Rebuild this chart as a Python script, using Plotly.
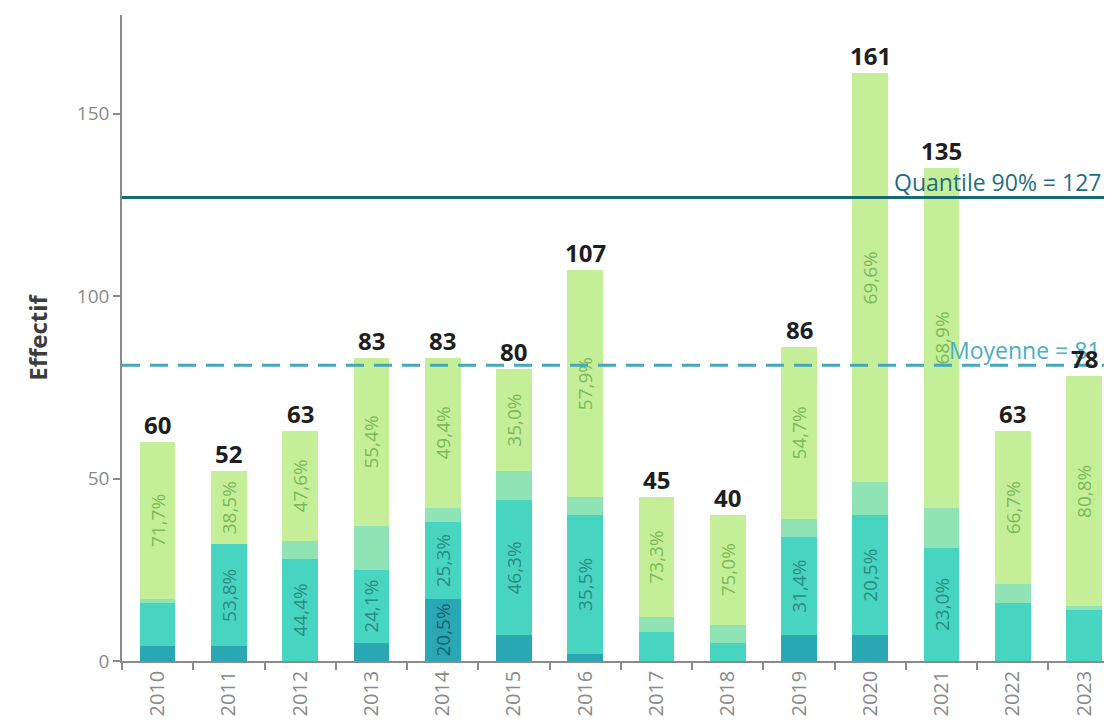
import plotly.graph_objects as go
from decimal import Decimal, ROUND_HALF_UP

years = ["2010", "2011", "2012", "2013", "2014", "2015", "2016",
         "2017", "2018", "2019", "2020", "2021", "2022", "2023"]
seg_dark = [4, 4, 0, 5, 17, 7, 2, 0, 0, 7, 7, 0, 0, 0]
seg_teal = [12, 28, 28, 20, 21, 37, 38, 8, 5, 27, 33, 31, 16, 14]
seg_light = [1, 0, 5, 12, 4, 8, 5, 4, 5, 5, 9, 11, 5, 1]
seg_green = [43, 20, 30, 46, 41, 28, 62, 33, 30, 47, 112, 93, 42, 63]
mean_value = 81
quantile90 = 127
label_min = 17

totals = [a + b + c + d for a, b, c, d in zip(seg_dark, seg_teal, seg_light, seg_green)]

FONT = "Open Sans"


def pct_labels(values):
    out = []
    for v, t in zip(values, totals):
        if v >= label_min:
            p = (Decimal(v) * 100 / Decimal(t)).quantize(Decimal("0.1"), rounding=ROUND_HALF_UP)
            out.append(f"{p}%".replace(".", ","))
        else:
            out.append("")
    return out


series = [
    (seg_dark, "#29a8b3", "#1b5f73"),
    (seg_teal, "#47d4c0", "#2a8c82"),
    (seg_light, "#8fe3b4", "#4e9e78"),
    (seg_green, "#c4ee97", "#7cb95a"),
]

fig = go.Figure()
for vals, col, tcol in series:
    fig.add_trace(go.Bar(
        x=years, y=vals, marker=dict(color=col, line=dict(width=0)),
        text=pct_labels(vals), textposition="inside", textangle=-90,
        insidetextanchor="middle", constraintext="none",
        textfont=dict(family=FONT, size=19, color=tcol),
        width=0.5, showlegend=False, hoverinfo="skip",
    ))

annotations = [
    dict(
        x=1, y=quantile90, xref="paper", yref="y", text=f"Quantile 90% = {quantile90}",
        showarrow=False, xanchor="right", yanchor="bottom", xshift=-1, yshift=-3,
        font=dict(family=FONT, size=23, color="#1f6e7e"),
    ),
    dict(
        x=1, y=mean_value, xref="paper", yref="y", text=f"Moyenne = {mean_value}",
        showarrow=False, xanchor="right", yanchor="bottom", xshift=-1, yshift=-3,
        font=dict(family=FONT, size=23, color="#4aaec4"),
    ),
]
for i, t in enumerate(totals):
    annotations.append(dict(
        x=i, y=t, xref="x", yref="y", text=f"<b>{t}</b>", showarrow=False,
        yanchor="bottom", yshift=-1,
        font=dict(family=FONT, size=24, color="#1e1e1e"),
    ))

shapes = [
    dict(type="line", xref="paper", x0=0, x1=1, yref="y", y0=quantile90, y1=quantile90,
         line=dict(color="#176a70", width=3), layer="above"),
    dict(type="line", xref="paper", x0=0, x1=1, yref="y", y0=mean_value, y1=mean_value,
         line=dict(color="#45a6bd", width=3, dash="18px,10px"), layer="above"),
]

fig.update_layout(
    barmode="stack",
    width=1096, height=709,
    margin=dict(l=114, r=0, t=7, b=54),
    paper_bgcolor="white", plot_bgcolor="white",
    font=dict(family=FONT, color="#888888"),
    annotations=annotations,
    shapes=shapes,
    showlegend=False,
)
fig.update_xaxes(
    type="category", range=[-0.5, 13.28],
    showline=True, linecolor="#8a8a8a", linewidth=1.5,
    ticks="outside", tickson="boundaries", ticklen=7, tickcolor="#8a8a8a", tickwidth=1.5,
    tickangle=-90, tickfont=dict(family=FONT, size=20, color="#8a8a8a"),
    showgrid=False, zeroline=False,
)
fig.update_yaxes(
    range=[0, 177], tickvals=[0, 50, 100, 150],
    showline=True, linecolor="#8a8a8a", linewidth=1.5,
    ticks="outside", ticklen=7, tickcolor="#8a8a8a", tickwidth=1.5,
    tickfont=dict(family=FONT, size=19, color="#8a8a8a"),
    showgrid=False, zeroline=False,
    title=dict(text="<b>Effectif</b>", font=dict(family=FONT, size=24, color="#3c3c3c"), standoff=22),
)

fig.write_html("out.html")
